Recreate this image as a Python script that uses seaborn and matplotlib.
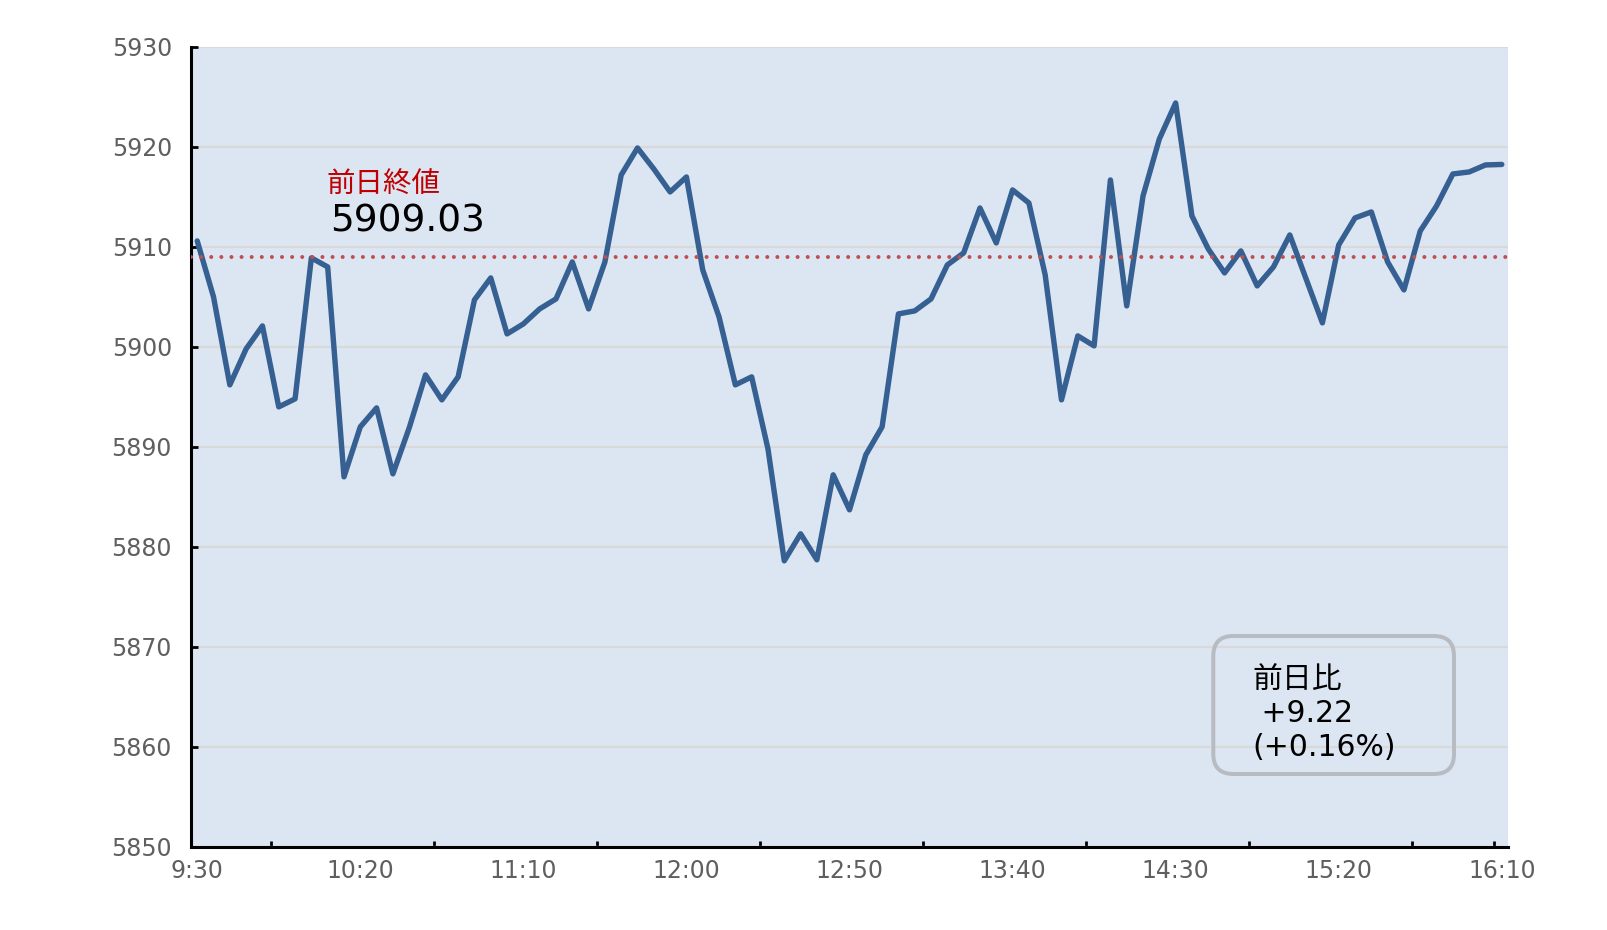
import numpy as np
import pandas as pd
import matplotlib
matplotlib.use("Agg")
import matplotlib.pyplot as plt
from matplotlib.patches import FancyBboxPatch
import seaborn as sns

# ---------------- data ----------------
start_label = "9:30"
interval_min = 5
values = [
    5910.6, 5905.0, 5896.2, 5899.8, 5902.1, 5894.0, 5894.8, 5908.9, 5908.0, 5887.0,
    5892.0, 5893.9, 5887.3, 5891.9, 5897.2, 5894.7, 5897.0, 5904.7, 5906.9, 5901.3,
    5902.3, 5903.8, 5904.8, 5908.5, 5903.8, 5908.5, 5917.2, 5919.9, 5917.8, 5915.5,
    5917.0, 5907.7, 5903.0, 5896.2, 5897.0, 5889.8, 5878.6, 5881.3, 5878.7, 5887.2,
    5883.7, 5889.2, 5892.0, 5903.3, 5903.6, 5904.8, 5908.2, 5909.4, 5913.9, 5910.4,
    5915.7, 5914.4, 5907.2, 5894.7, 5901.1, 5900.1, 5916.7, 5904.1, 5915.1, 5920.8,
    5924.4, 5913.1, 5909.8, 5907.4, 5909.6, 5906.1, 5908.0, 5911.2, 5906.8, 5902.4,
    5910.2, 5912.9, 5913.5, 5908.5, 5905.7, 5911.6, 5914.1, 5917.3, 5917.5, 5918.2,
    5918.25,
]
prev_close = 5909.03
prev_close_label = "前日終値"
change = 9.22
change_pct = 0.16
change_label = "前日比"
x_tick_labels = ["9:30", "10:20", "11:10", "12:00", "12:50", "13:40", "14:30", "15:20", "16:10"]
y_ticks = [5850, 5860, 5870, 5880, 5890, 5900, 5910, 5920, 5930]

minutes = np.arange(len(values)) * interval_min
df = pd.DataFrame({"minute": minutes, "value": values})

# ---------------- style ----------------
sns.set_style("white")
plt.rcParams["font.family"] = ["DejaVu Sans", "Noto Sans CJK JP"]

W, H = 1608, 930
fig = plt.figure(figsize=(W / 100, H / 100), dpi=100)
ax_l, ax_r, ax_t, ax_b = 190.7, 1508.3, 47.0, 846.7
ax = fig.add_axes([ax_l / W, 1 - ax_b / H, (ax_r - ax_l) / W, (ax_b - ax_t) / H])
ax.set_facecolor("#dce6f2")

sns.lineplot(data=df, x="minute", y="value", ax=ax, color="#366092",
             linewidth=3.9, zorder=3)
ax.axhline(prev_close, color="#c0504d", lw=2.9, linestyle=(0, (0.01, 2.5)),
           dash_capstyle="round", zorder=4)

ax.set_xlim(-2, 402)
ax.set_ylim(y_ticks[0], y_ticks[-1])

ax.set_yticks(y_ticks)
ax.set_yticklabels([str(v) for v in y_ticks])
ax.set_xticks(np.arange(len(x_tick_labels)) * 50)
ax.set_xticklabels(x_tick_labels)
ax.set_xticks(list(np.arange(22.5, 400, 50)) + [397.5], minor=True)

ax.tick_params(axis="y", direction="in", length=5, width=2, color="black",
               labelsize=17, labelcolor="#5f5f5f", pad=13.5, left=True)
ax.tick_params(axis="x", which="major", length=0, labelsize=17,
               labelcolor="#5f5f5f", pad=9)
ax.tick_params(axis="x", which="minor", direction="in", length=4, width=2,
               color="black", bottom=True)

ax.yaxis.grid(True, color="#d9d9d9", lw=1.6)
ax.xaxis.grid(False)
ax.set_axisbelow(True)
for s in ["top", "right"]:
    ax.spines[s].set_visible(False)
for s in ["left", "bottom"]:
    ax.spines[s].set_color("black")
    ax.spines[s].set_linewidth(2.2)
ax.set_xlabel("")
ax.set_ylabel("")

# ---------------- annotations ----------------
aw, ah = ax_r - ax_l, ax_b - ax_t
def fx(px):
    return (px - ax_l) / aw
def fy(py):
    return (ax_b - py) / ah

ax.text(fx(326.7), fy(184), prev_close_label, color="#c00000", fontsize=20.5,
        ha="left", va="center", transform=ax.transAxes)
ax.text(fx(330), fy(221.7), f"{prev_close:.2f}", color="black", fontsize=27,
        ha="left", va="center", transform=ax.transAxes)

box = FancyBboxPatch((fx(1213.3), fy(774)), fx(1454) - fx(1213.3), fy(636) - fy(774),
                     boxstyle="round,pad=0,rounding_size=%f" % (20 / aw),
                     mutation_aspect=aw / ah, transform=ax.transAxes,
                     facecolor="none", edgecolor="#b8bcc2", lw=2.9, zorder=5)
ax.add_patch(box)
ax.text(fx(1252), fy(713.5), f"{change_label}\n +{change:.2f}\n(+{change_pct:.2f}%)",
        color="black", fontsize=21.5, ha="left", va="center", linespacing=1.2,
        transform=ax.transAxes, zorder=6)

fig.savefig("out.png", dpi=100, facecolor="white")
